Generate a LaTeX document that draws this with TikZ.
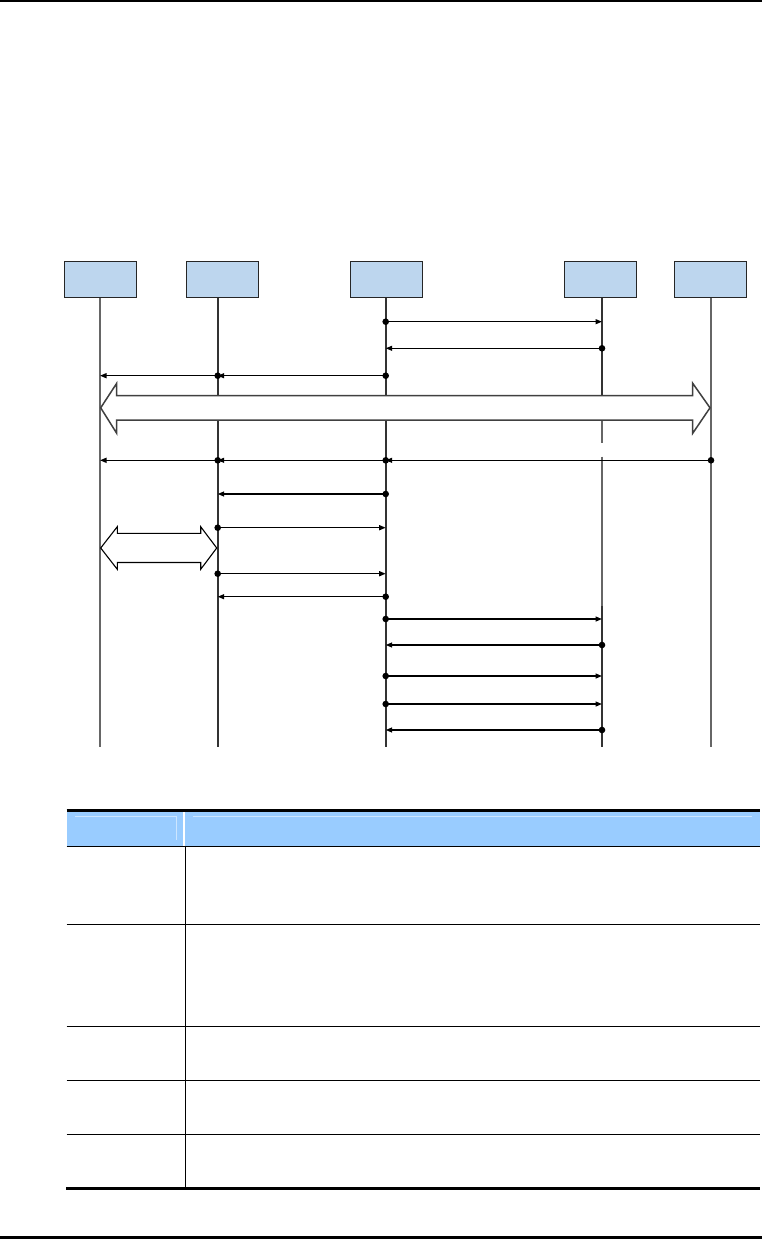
\documentclass[tikz,border=0pt]{standalone}
\usetikzlibrary{arrows.meta}
\definecolor{boxblue}{RGB}{189,214,238}
\definecolor{hdrblue}{RGB}{153,204,255}
\definecolor{hilite}{RGB}{205,230,255}
\begin{document}
\begin{tikzpicture}[x=1pt,y=-1pt,
  actor/.style={draw=black!85,line width=1pt,fill=boxblue,minimum width=72.5pt,minimum height=36.5pt,inner sep=0pt},
  lifedark/.style={draw=black!80,line width=2pt},
  lifegray/.style={draw=black!60,line width=1.4pt},
  msgline/.style={draw=black,line width=1.3pt,-{Triangle[length=6.5pt,width=5pt]}},
  dotend/.style={fill=black},
  bigarrow/.style={draw=black!75,line width=1.5pt,fill=white,line join=miter},
  smallarrow/.style={draw=black,line width=1.1pt,fill=white,line join=miter},
  rule/.style={draw=black,line width=1.5pt},
  thickrule/.style={draw=black,line width=3pt}]
\useasboundingbox (0,0) rectangle (762,1239);

% page rules
\draw[draw=black,line width=2pt] (0,1) -- (762,1);
\draw[draw=black,line width=3.5pt] (0,1237.5) -- (762,1237.5);

% participant boxes
\node[actor] (h1) at (100.4,279.4) {};
\node[actor] (h2) at (222.7,279.4) {};
\node[actor] (h3) at (386.3,279.4) {};
\node[actor] (h4) at (600.5,279.4) {};
\node[actor] (h5) at (710.5,279.4) {};

% lifeline ends
\coordinate (l1) at (100,298);   \coordinate (e1) at (100,746.7);
\coordinate (l2) at (217.7,298); \coordinate (e2) at (217.7,746.7);
\coordinate (l3) at (385.7,298); \coordinate (e3) at (385.7,746.7);
\coordinate (l4) at (602,298);   \coordinate (e4) at (602,746.7);
\coordinate (l5) at (711,298);   \coordinate (e5) at (711,746.7);

\draw[lifegray] (l1) -- (e1);
\draw[lifedark] (l2) -- (e2);
\draw[lifedark] (l3) -- (e3);
\draw[lifegray] (l5) -- (e5);
\draw[lifedark] (l4) -- (l4 |- 0,396);
\draw[lifegray] (l4 |- 0,420) -- (l4 |- 0,442.7);
\draw[lifegray] (l4 |- 0,456.7) -- (l4 |- 0,606);
\draw[lifedark] (l4 |- 0,606) -- (e4);

% big double arrow between l1 and l5
\draw[bigarrow] (100.7,407.8) -- (116.7,383.3) -- (116.7,395.7) -- (692.7,395.7) -- (692.7,383.3)
  -- (710,407.8) -- (692.7,433.3) -- (692.7,420) -- (116.7,420) -- (116.7,433.3) -- cycle;

% small double arrow between l1 and l2
\draw[smallarrow] (100.7,548) -- (117.3,526.7) -- (117.3,533.3) -- (200.7,533.3) -- (200.7,526.7)
  -- (216.7,548) -- (200.7,569.3) -- (200.7,562.5) -- (117.3,562.5) -- (117.3,569.3) -- cycle;

% messages
\foreach \a/\b/\y in {l3/l4/321.7, l4/l3/348.3, l3/l2/375.7, l2/l1/375.7,
  l5/l3/460.3, l3/l2/460.3, l2/l1/460.3, l3/l2/494, l2/l3/527.7,
  l2/l3/573.7, l3/l2/596.7, l3/l4/619, l4/l3/645, l3/l4/676, l3/l4/704, l4/l3/730}{
  \draw[msgline] (\a |- 0,\y) -- (\b |- 0,\y);
  \fill[dotend] (\a |- 0,\y) circle (3.3);
}

% table
\fill[hdrblue] (66.7,812) rectangle (760,845.5);
\draw[hilite,line width=1pt] (75,816.3) -- (176.7,816.3) -- (176.7,840);
\draw[hilite,line width=1pt] (193.3,816.3) -- (752,816.3);
\draw[white,line width=1.2pt] (184,812) -- (184,845.5);
\draw[thickrule] (66.7,810.5) -- (760,810.5);
\draw[rule] (66.7,846.3) -- (760,846.3);
\draw[rule] (66.7,924.3) -- (760,924.3);
\draw[rule] (66.7,1026.3) -- (760,1026.3);
\draw[rule] (66.7,1080.3) -- (760,1080.3);
\draw[rule] (66.7,1134.3) -- (760,1134.3);
\draw[thickrule] (66,1188.7) -- (760,1188.7);
\draw[rule] (185.3,846.3) -- (185.3,1188.7);
\end{tikzpicture}
\end{document}
